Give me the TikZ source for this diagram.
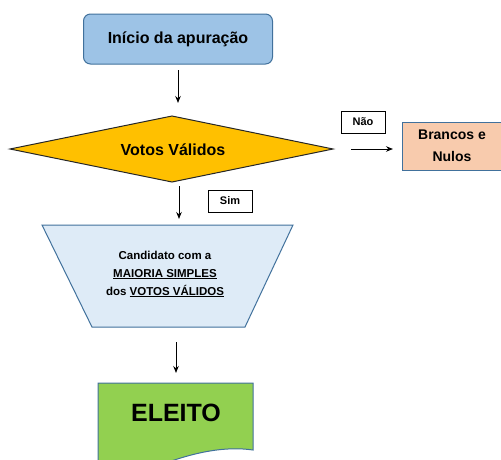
\documentclass[tikz,border=0pt]{standalone}
\usepackage{fontspec}
\setmainfont{Liberation Sans}
\usetikzlibrary{arrows.meta}
\definecolor{startfill}{HTML}{9DC3E6}
\definecolor{bordblue}{HTML}{41719C}
\definecolor{diafill}{HTML}{FFC000}
\definecolor{bnfill}{HTML}{F8CBAD}
\definecolor{trapfill}{HTML}{DEEBF7}
\definecolor{elfill}{HTML}{92D050}
\begin{document}
\begin{tikzpicture}[x=1pt,y=-1pt,
  arr/.style={-{Stealth[length=7pt,width=5.5pt]},line width=1pt,black},
  lbl/.style={draw=black,line width=0.6pt,fill=white,minimum width=44pt,minimum height=22pt,inner sep=0pt,font=\bfseries\fontsize{11}{13}\selectfont},
  txt/.style={font=\bfseries, align=center}]
\useasboundingbox (0,0) rectangle (501,459);
% start
\node[draw=bordblue,line width=1pt,fill=startfill,rounded corners=7pt,minimum width=189pt,minimum height=50pt,font=\bfseries\fontsize{16}{19}\selectfont] (start) at (178,39) {Início da apuração};
% diamond
\coordinate (dT) at (172,116);
\coordinate (dR) at (333,149);
\coordinate (dB) at (172,182);
\coordinate (dL) at (10,149);
\draw[fill=diafill,draw=black!85,line width=1pt] (dT) -- (dR) -- (dB) -- (dL) -- cycle;
\node[font=\bfseries\fontsize{16}{19}\selectfont] (dia) at (173,150) {Votos Válidos};
% brancos e nulos
\node[draw=bordblue,line width=1pt,fill=bnfill,minimum width=100pt,minimum height=48pt,align=center,font=\bfseries\fontsize{14}{22}\selectfont] (bn) at (452,146) {Brancos e\\Nulos};
% labels
\node[lbl] (nao) at (363,122) {Não};
\node[lbl] (sim) at (230,201) {Sim};
% trapezoid
\coordinate (tTL) at (42,225);
\coordinate (tTR) at (293,225);
\coordinate (tBR) at (245,327);
\coordinate (tBL) at (92,327);
\draw[fill=trapfill,draw=bordblue,line width=1pt] (tTL) -- (tTR) -- (tBR) -- (tBL) -- cycle;
\node[txt,font=\bfseries\fontsize{11.5}{18}\selectfont] (cand) at (165,274) {Candidato com a\\\underline{MAIORIA SIMPLES}\\dos \underline{VOTOS VÁLIDOS}};
% eleito document
\coordinate (eTL) at (98,383);
\coordinate (eTR) at (253,383);
\coordinate (eBR) at (253,450);
\coordinate (eBL) at (98,475);
\draw[fill=elfill,draw=bordblue,line width=1pt] (eBL) -- (eTL) -- (eTR) -- (eBR) .. controls (225,446) and (195,452) .. (160,465) .. controls (135,474) and (115,476) .. (eBL) -- cycle;
\node[font=\bfseries\fontsize{25}{30}\selectfont] (el) at (176,413) {ELEITO};
% arrows
\coordinate (a1s) at (178,70);
\coordinate (a1e) at (178,103);
\draw[arr] (a1s) -- (a1e);
\coordinate (a2s) at (179,186);
\coordinate (a2e) at (179,219);
\draw[arr] (a2s) -- (a2e);
\coordinate (a3s) at (176,342);
\coordinate (a3e) at (176,373);
\draw[arr] (a3s) -- (a3e);
\coordinate (a4s) at (351,149);
\coordinate (a4e) at (393,149);
\draw[arr] (a4s) -- (a4e);
\end{tikzpicture}
\end{document}
